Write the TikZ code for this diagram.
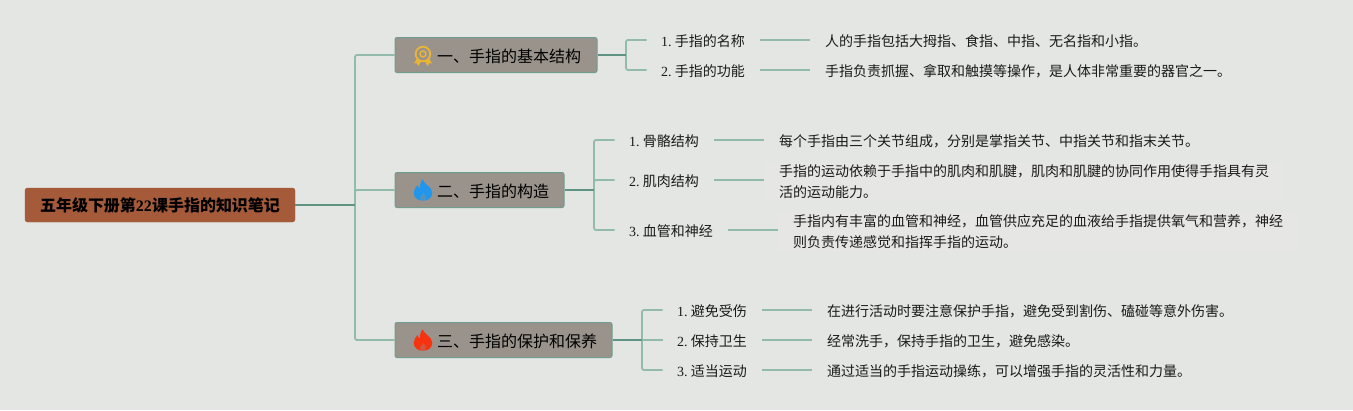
\documentclass[tikz,border=0pt]{standalone}
\usepackage{fontspec}
\setmainfont{Liberation Serif}
\newfontfamily\cjk{Noto Sans CJK SC}
\definecolor{bgc}{HTML}{E3E6E2}
\definecolor{notec}{HTML}{E6E7E4}
\definecolor{topicc}{HTML}{99938B}
\definecolor{topicb}{HTML}{6F9E91}
\definecolor{rootc}{HTML}{A55A3A}
\definecolor{linec}{HTML}{93BBAC}
\definecolor{darkl}{HTML}{5F9383}
\definecolor{inkc}{HTML}{1A1A1A}
\definecolor{goldc}{HTML}{EBB434}
\definecolor{bluec}{HTML}{2196EA}
\definecolor{redc}{HTML}{F6320F}
\tikzset{
  rootbox/.style={draw=rootc,fill=rootc,rounded corners=2.5pt,minimum height=34pt,minimum width=270pt,inner sep=0pt,
    font=\fontsize{16}{20}\selectfont\bfseries,text=black},
  topicbox/.style={draw=topicb,line width=1pt,fill=topicc,rounded corners=2pt,minimum height=35pt,inner sep=0pt,anchor=west},
  topictext/.style={anchor=west,inner sep=0pt,text=black,font=\fontsize{16}{20}\selectfont},
  leaflabel/.style={anchor=west,inner xsep=14.5pt,inner ysep=0pt,text=inkc,font=\fontsize{14}{21}\selectfont,text height=13pt,text depth=1pt},
  leafnote/.style={anchor=west,inner xsep=15pt,inner ysep=0pt,text=inkc,align=left,font=\fontsize{14}{21}\selectfont,text height=13pt,text depth=1pt},
  wrapnote/.style={anchor=west,inner xsep=15pt,inner ysep=2pt,text=inkc,align=left,fill=notec,font=\fontsize{14}{21}\selectfont},
  trunk/.style={draw=linec,line width=1.8pt,rounded corners=2pt},
  stem/.style={draw=darkl,line width=1.8pt},
  flameicon/.pic={
    \fill[fill=#1] (-0.5,-10.5) .. controls (1,-6) and (9.3,-3) .. (9.3,3)
      .. controls (9.3,8) and (4.5,10.7) .. (0,10.7)
      .. controls (-4.5,10.7) and (-9.3,8) .. (-9.3,3)
      .. controls (-9.3,-0.5) and (-7,-3) .. (-5.5,-5)
      .. controls (-5,-3) and (-4,-1.8) .. (-3,-1.5)
      .. controls (-3.5,-5) and (-2,-8.5) .. (-0.5,-10.5) -- cycle;
    \fill[fill=topicc,opacity=.4] (0.3,3) .. controls (1.2,4.8) and (3,5.8) .. (3,7.8)
      .. controls (3,9.5) and (1.3,10.7) .. (0,10.7)
      .. controls (-1.3,10.7) and (-3,9.5) .. (-3,7.8)
      .. controls (-3,6) and (-0.6,5) .. (0.3,3) -- cycle;
  },
  pics/flameicon/.default=black
}
\newcommand{\gapnum}[1]{#1.\kern3.2pt}
\begin{document}
\begin{tikzpicture}[x=1pt,y=-1pt]
\useasboundingbox (0,0) rectangle (1353,410);
\fill[bgc] (0,0) rectangle (1353,410);

% nodes
\node[rootbox] (root) at (160,205) {\raisebox{-0.7pt}{{\cjk 五年级下册第}22{\cjk 课手指的知识笔记}}};
\node[topicbox,minimum width=202pt] (t1) at (394.5,55) {};
\node[topicbox,minimum width=169pt] (t2) at (394.5,190) {};
\node[topicbox,minimum width=217pt] (t3) at (394.5,340) {};
\node[topictext] (t1x) at (437,56) {\cjk 一、手指的基本结构};
\node[topictext] (t2x) at (437,191) {\cjk 二、手指的构造};
\node[topictext] (t3x) at (437,341) {\cjk 三、手指的保护和保养};

% junctions
\coordinate (j0) at (355,205);
\coordinate (j1) at (626,55);
\coordinate (j2) at (594,190);
\coordinate (j3) at (642,340);

% leaves
\node[leaflabel] (a1) at (646.5,40) {\gapnum{1}{\cjk 手指的名称}};
\node[leaflabel] (a2) at (646.5,70) {\gapnum{2}{\cjk 手指的功能}};
\node[leafnote] (n1) at (810,40) {\cjk 人的手指包括大拇指、食指、中指、无名指和小指。};
\node[leafnote] (n2) at (810,70) {\cjk 手指负责抓握、拿取和触摸等操作，是人体非常重要的器官之一。};

\node[leaflabel] (b1) at (614.5,140) {\gapnum{1}{\cjk 骨骼结构}};
\node[leaflabel] (b2) at (614.5,180) {\gapnum{2}{\cjk 肌肉结构}};
\node[leaflabel] (b3) at (614.5,230) {\gapnum{3}{\cjk 血管和神经}};
\node[leafnote] (m1) at (764,140) {\cjk 每个手指由三个关节组成，分别是掌指关节、中指关节和指末关节。};
\node[wrapnote] (m2) at (764,182) {\cjk 手指的运动依赖于手指中的肌肉和肌腱，肌肉和肌腱的协同作用使得手指具有灵\\\cjk 活的运动能力。};
\node[wrapnote] (m3) at (778,232) {\cjk 手指内有丰富的血管和神经，血管供应充足的血液给手指提供氧气和营养，神经\\\cjk 则负责传递感觉和指挥手指的运动。};

\node[leaflabel] (c1) at (662.5,310) {\gapnum{1}{\cjk 避免受伤}};
\node[leaflabel] (c2) at (662.5,340) {\gapnum{2}{\cjk 保持卫生}};
\node[leaflabel] (c3) at (662.5,370) {\gapnum{3}{\cjk 适当运动}};
\node[leafnote] (p1) at (812,310) {\cjk 在进行活动时要注意保护手指，避免受到割伤、磕碰等意外伤害。};
\node[leafnote] (p2) at (812,340) {\cjk 经常洗手，保持手指的卫生，避免感染。};
\node[leafnote] (p3) at (812,370) {\cjk 通过适当的手指运动操练，可以增强手指的灵活性和力量。};

% connectors
\draw[trunk] (j0) |- (t1.west);
\draw[trunk] (j0) |- (t2.west);
\draw[trunk] (j0) |- (t3.west);
\draw[stem] (root.east) -- (j0);

\draw[trunk] (j1) |- (a1.west);
\draw[trunk] (j1) |- (a2.west);
\draw[stem] (t1.east) -- (j1);

\draw[trunk] (j2) |- (b1.west);
\draw[trunk] (j2) -- (b2.west -| j2) -- (b2.west);
\draw[trunk] (j2) |- (b3.west);
\draw[stem] (t2.east) -- (j2);

\draw[trunk] (j3) |- (c1.west);
\draw[trunk] (j3) -- (c2.west);
\draw[trunk] (j3) |- (c3.west);
\draw[stem] (t3.east) -- (j3);

\draw[trunk] (a1.east) -- (n1.west);
\draw[trunk] (a2.east) -- (n2.west);
\draw[trunk] (b1.east) -- (m1.west);
\draw[trunk] (b2.east) -- (m2.west |- b2.east);
\draw[trunk] (b3.east) -- (m3.west |- b3.east);
\draw[trunk] (c1.east) -- (p1.west);
\draw[trunk] (c2.east) -- (p2.west);
\draw[trunk] (c3.east) -- (p3.west);

% icons
\begin{scope}[shift={(423,55)}]
  \draw[goldc,line width=1.8pt] (0,-1) circle (7.3);
  \draw[goldc,line width=1.4pt] (0,-1) circle (3);
  \fill[goldc] (-6,3.5) -- (-9,8.5) -- (-6.5,8) -- (-4.5,11) -- (-2,6.5) -- cycle;
  \fill[goldc] (6,3.5) -- (9,8.5) -- (6.5,8) -- (4.5,11) -- (2,6.5) -- cycle;
\end{scope}
\pic at (423,190) {flameicon=bluec};
\pic at (423,340) {flameicon=redc};
\end{tikzpicture}
\end{document}
